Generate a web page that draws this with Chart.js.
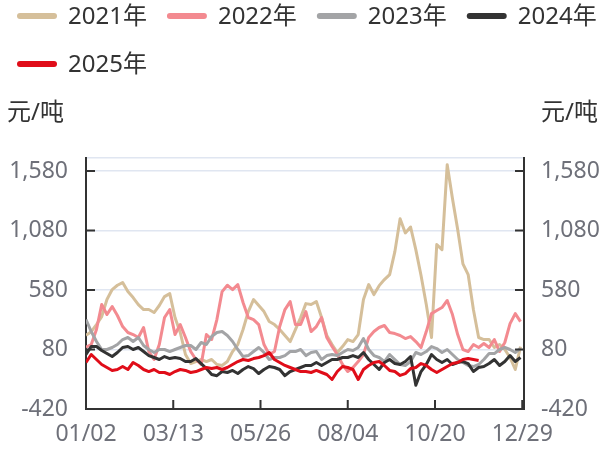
<!DOCTYPE html>
<html>
<head>
<meta charset="utf-8">
<script src="https://cdn.jsdelivr.net/npm/chart.js@4.4.1/dist/chart.umd.min.js"></script>
<style>
  html, body { margin: 0; padding: 0; background: #fff; }
</style>
</head>
<body>
<canvas id="chart" width="603" height="452"></canvas>
<script>
const seriesNames  = ['2021年', '2022年', '2023年', '2024年', '2025年'];
const seriesColors = ['#d5bf9a', '#f38a90', '#a3a4a6', '#333333', '#e00d19'];
const unitLabel    = '元/吨';
const xTickIdx     = [0, 50, 100, 150, 200, 250];
const xTickLabels  = ['01/02', '03/13', '05/26', '08/04', '10/20', '12/29'];
const yTicks       = [-420, 80, 580, 1080, 1580];
const sampleStep   = 3; // one reading every 3 trading days

const v2021 = [200, 230, 290, 357, 500, 584, 620, 643, 567, 517, 458, 416, 416, 391, 450, 525, 550, 349, 223, 38,
  -38, -21, -4, -21, -4, -46, -54, -21, 63, 122, 248, 399, 500, 450, 399, 315, 290, 248, 198, 147,
  248, 349, 466, 458, 483, 349, 198, 122, 55, 105, 164, 147, 206, 500, 626, 542, 617, 668, 710, 903,
  1180, 1060, 1110, 920, 702, 458, 181, 962, 920, 1634, 1350, 1088, 800, 710, 416, 181, 164, 164, 97, 122,
  80, 13, -88, 105];
const v2022 = [100, 122, 248, 458, 374, 441, 366, 273, 223, 206, 181, 265, 63, -4, 122, 349, 416, 206, 290, 181,
  63, -4, -46, 206, 164, 332, 567, 620, 584, 626, 475, 349, 332, 290, 122, 38, 63, 273, 416, 483,
  290, 290, 399, 231, 273, 349, 181, 105, 38, -46, -105, -71, -21, 38, 181, 231, 265, 282, 223, 214,
  198, 172, 189, 147, 97, 231, 382, 408, 433, 492, 374, 206, 80, 63, 122, 97, 130, 97, 164, 63,
  139, 298, 382, 315];
const v2023 = [332, 231, 147, 80, 80, 97, 122, 164, 181, 147, 181, 114, 80, 55, 80, 80, 63, 80, 97, 114,
  114, 80, 139, 122, 189, 223, 231, 198, 147, 80, 21, 29, 63, 97, 55, -4, 13, 13, 29, 63,
  63, 80, 29, 55, 63, -4, 29, 38, 29, 55, 80, 72, 97, 172, 80, 29, 13, -21, 38, -4,
  -46, -54, -21, 55, 38, 63, 105, 88, 55, 80, 38, -4, -29, -54, -63, -46, -4, 46, 46, 80,
  97, 80, 55, 88];
const v2024 = [38, 105, 105, 72, 46, 21, 55, 97, 105, 80, 97, 63, 29, 13, -4, 21, 4, 13, 4, -21,
  -21, 4, -38, -80, -130, -140, -105, -113, -96, -122, -88, -63, -80, -122, -88, -63, -71, -88, -140, -105,
  -88, -71, -54, -54, -29, -54, -29, -4, -4, 13, 13, 29, 13, 55, -4, -46, -88, -29, -4, -38,
  -46, -21, 21, -220, -105, -46, 38, -4, -29, -4, -46, -29, -21, -38, -105, -71, -63, -38, -4, -54,
  -21, 29, -21, 13];
const v2025 = [-29, 38, -4, -46, -71, -96, -88, -63, -88, -29, -54, -88, -105, -88, -113, -113, -130, -105, -88, -96,
  -113, -105, -88, -71, -80, -71, -88, -71, -46, -21, -4, -12, 4, 13, 29, 55, -4, -29, -54, -71,
  -88, -105, -105, -113, -96, -113, -130, -172, -105, -63, -71, -88, -172, -88, -54, -29, -21, -54, -96, -105,
  -138, -122, -80, -71, -38, -54, -88, -113, -88, -63, -38, -29, -4, 4, -4, -12];
const seriesValues = [v2021, v2022, v2023, v2024, v2025];

const fontFamily = "'Noto Sans', 'Noto Sans CJK SC', sans-serif";
const axisColor  = '#333333';
const labelColor = '#6e7079';
const gridColor  = '#e0e6f1';

const toPoints = values => values.map((v, i) => ({ x: i * sampleStep, y: v }));

// axis units, inward tick marks and the legend are painted on top of the chart
const overlay = {
  id: 'overlay',
  afterDraw(chart) {
    const ctx = chart.ctx;
    const { left, right, bottom } = chart.chartArea;
    const ys = chart.scales.y, xs = chart.scales.x;
    ctx.save();
    ctx.strokeStyle = axisColor;
    ctx.lineWidth = 2;
    ctx.beginPath();
    for (const v of yTicks) {
      const y = ys.getPixelForValue(v);
      ctx.moveTo(left, y);  ctx.lineTo(left + 9, y);
      ctx.moveTo(right, y); ctx.lineTo(right - 9, y);
    }
    for (const v of xTickIdx) {
      const x = xs.getPixelForValue(v);
      ctx.moveTo(x, bottom); ctx.lineTo(x, bottom - 9);
    }
    ctx.stroke();

    ctx.font = '24px ' + fontFamily;
    ctx.fillStyle = '#333';
    ctx.textBaseline = 'middle';
    ctx.textAlign = 'left';
    ctx.fillText(unitLabel, 7, 113);
    ctx.textAlign = 'right';
    ctx.fillText(unitLabel, 598, 113);

    let x = 17, y = 16;
    ctx.textAlign = 'left';
    seriesNames.forEach((name, i) => {
      const w = 51 + ctx.measureText(name).width;
      if (x + w > chart.width) { x = 17; y += 48; }
      ctx.fillStyle = seriesColors[i];
      ctx.beginPath();
      ctx.roundRect(x, y - 3, 40, 6, 3);
      ctx.fill();
      ctx.fillStyle = '#333';
      ctx.fillText(name, x + 51, y + 1);
      x += w + 20;
    });
    ctx.restore();
  }
};

const yAxis = (position, width, showGrid) => ({
  type: 'linear',
  position: position,
  min: -420,
  max: 1690,
  afterBuildTicks: s => { s.ticks = yTicks.concat([1690]).map(v => ({ value: v })); },
  afterFit: s => { s.width = width; },
  ticks: {
    callback: v => yTicks.includes(v) ? v.toLocaleString('en-US') : '',
    color: labelColor,
    font: { family: fontFamily, size: 23 },
    padding: position === 'left' ? 18 : 17,
  },
  grid: { display: showGrid, color: gridColor, lineWidth: 1.5, drawTicks: false },
  border: { display: true, color: axisColor, width: 2 },
});

new Chart(document.getElementById('chart').getContext('2d'), {
  type: 'line',
  data: {
    datasets: seriesNames.map((name, i) => ({
      label: name,
      data: toPoints(seriesValues[i]),
      borderColor: seriesColors[i],
      backgroundColor: seriesColors[i],
      borderWidth: 3,
      pointRadius: 0,
      tension: 0,
      borderJoinStyle: 'round',
      order: seriesNames.length - i,
    })),
  },
  options: {
    responsive: false,
    animation: false,
    layout: { padding: { top: 158, left: 0, right: 0, bottom: 0 } },
    plugins: { legend: { display: false }, tooltip: { enabled: false } },
    scales: {
      x: {
        type: 'linear',
        min: 0,
        max: 251,
        afterBuildTicks: s => { s.ticks = xTickIdx.map(v => ({ value: v })); },
        afterFit: s => { s.height = 43; },
        ticks: {
          callback: v => xTickLabels[xTickIdx.indexOf(v)] || '',
          color: labelColor,
          font: { family: fontFamily, size: 23 },
          padding: 12,
          maxRotation: 0,
          autoSkip: false,
        },
        grid: { display: false, drawTicks: false },
        border: { display: true, color: axisColor, width: 2 },
      },
      y: yAxis('left', 86, true),
      y2: yAxis('right', 79, false),
    },
  },
  plugins: [overlay],
});
</script>
</body>
</html>
